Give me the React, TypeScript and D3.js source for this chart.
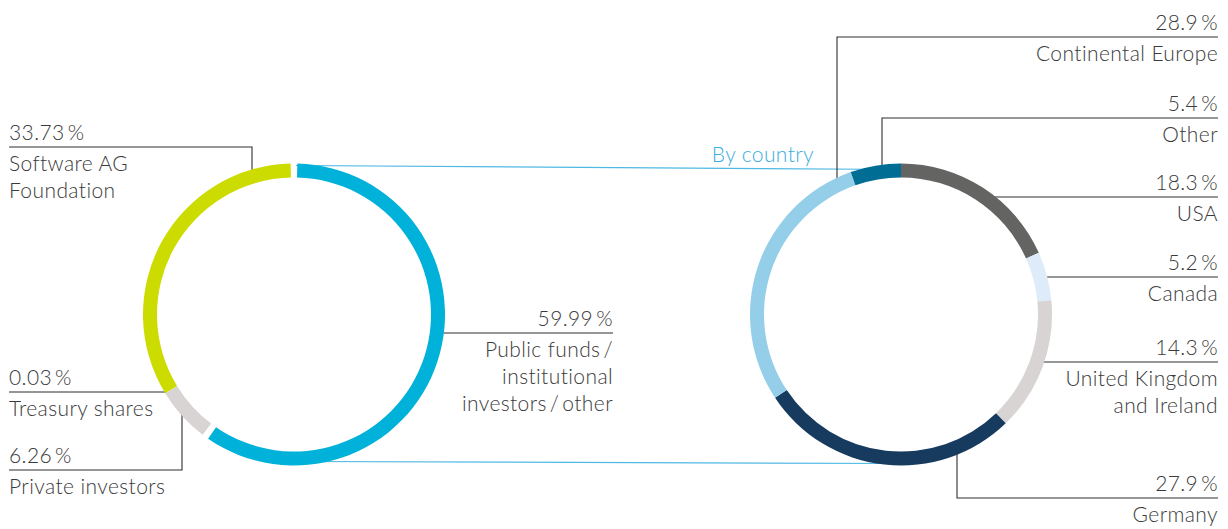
import { useEffect } from 'react'
import * as d3 from 'd3'

const W = 1228
const H = 529

// shareholder structure (left ring), clockwise from 12 o'clock
const HOLDER_KEYS = ['public', 'private', 'treasury', 'foundation']
const HOLDER_VALUES = [59.99, 6.26, 0.03, 33.73]
const HOLDER_COLORS = ['#00b1da', '#d7d4d3', '#d7d4d3', '#cddc00']

// by country (right ring), clockwise from 12 o'clock
const COUNTRY_KEYS = ['usa', 'canada', 'uk', 'germany', 'europe', 'other']
const COUNTRY_VALUES = [18.3, 5.2, 14.3, 27.9, 28.9, 5.4]
const COUNTRY_COLORS = ['#646463', '#ddecf8', '#d7d4d3', '#173a5f', '#94cee9', '#006d94']

const CY = 314.5
const LEFT_CX = 294
const RIGHT_CX = 901
const R_OUT = 151
const R_IN = 137

const TEXT = '#3a3a3a'
const LINE = '#2e2e2e'
const BLUE_LINE = '#4fb8e3'
const FONT = 'Lato, "Open Sans", sans-serif'
const FS = 21
const LS = 0.4

const pct = (v: number, d: number) => `${v.toFixed(d)}\u2009%`

// x on outer edge of ring for given y, on the chosen side
function ringX(cx: number, y: number, side: number) {
  const dy = y - CY
  return cx + side * Math.sqrt(Math.max(0, R_OUT * R_OUT - dy * dy))
}
function ringY(cx: number, x: number, side: number) {
  const dx = x - cx
  return CY + side * Math.sqrt(Math.max(0, R_OUT * R_OUT - dx * dx))
}

export default function App() {
  useEffect(() => {
    document.body.style.margin = '0'
  }, [])

  const pie = d3.pie<number>().sort(null).value(d => d)
  const arc = d3.arc<any>().innerRadius(R_IN).outerRadius(R_OUT)

  const gap = 0.022
  const holderArcs = pie(HOLDER_VALUES).map((a, i) => {
    if (i === 0) return { ...a, startAngle: a.startAngle + gap, endAngle: a.endAngle - gap }
    if (i === 1) return { ...a, startAngle: a.startAngle + gap }
    if (i === 3) return { ...a, endAngle: a.endAngle - gap }
    return a
  })
  const countryArcs = pie(COUNTRY_VALUES)

  const hv = HOLDER_VALUES
  const cv = COUNTRY_VALUES

  type Lab = { value: string; lines: string[]; anchor: 'start' | 'end'; x: number; y: number; path: string }
  const labels: Lab[] = [
    { value: pct(hv[3], 2), lines: ['Software AG', 'Foundation'], anchor: 'start', x: 9, y: 140,
      path: `M9,147H252V${ringY(LEFT_CX, 252, -1) + 2}` },
    { value: pct(hv[2], 2), lines: ['Treasury shares'], anchor: 'start', x: 9, y: 385,
      path: `M9,392H${ringX(LEFT_CX, 392, -1) + 2}` },
    { value: pct(hv[1], 2), lines: ['Private investors'], anchor: 'start', x: 9, y: 463,
      path: `M9,470H182V${ringY(LEFT_CX, 182, 1) - 2}` },
    { value: pct(hv[0], 2), lines: ['Public funds\u2009/', 'institutional', 'investors\u2009/\u2009other'], anchor: 'end', x: 613, y: 326,
      path: `M${ringX(LEFT_CX, 333, 1) - 2},333H613` },
    { value: pct(cv[4], 1), lines: ['Continental Europe'], anchor: 'end', x: 1218, y: 30,
      path: `M1218,37H837V${ringY(RIGHT_CX, 837, -1) + 2}` },
    { value: pct(cv[5], 1), lines: ['Other'], anchor: 'end', x: 1218, y: 111,
      path: `M1218,118H882V${ringY(RIGHT_CX, 882, -1) + 2}` },
    { value: pct(cv[0], 1), lines: ['USA'], anchor: 'end', x: 1218, y: 190,
      path: `M1218,197H${ringX(RIGHT_CX, 197, 1) - 2}` },
    { value: pct(cv[1], 1), lines: ['Canada'], anchor: 'end', x: 1218, y: 270,
      path: `M1218,277H${ringX(RIGHT_CX, 277, 1) - 2}` },
    { value: pct(cv[2], 1), lines: ['United Kingdom', 'and Ireland'], anchor: 'end', x: 1218, y: 355,
      path: `M1218,362H${ringX(RIGHT_CX, 362, 1) - 2}` },
    { value: pct(cv[3], 1), lines: ['Germany'], anchor: 'end', x: 1218, y: 491,
      path: `M1218,498H957V${ringY(RIGHT_CX, 957, 1) - 2}` },
  ]

  return (
    <svg width={W} height={H} style={{ display: 'block', background: '#fff' }} fontFamily={FONT}>
      {/* connector lines between the rings */}
      <line x1={LEFT_CX + 2} y1={CY - R_OUT + 2} x2={RIGHT_CX} y2={CY - R_OUT + 6}
        stroke={BLUE_LINE} strokeWidth={1.2} />
      <line x1={LEFT_CX + 4} y1={CY + R_OUT - 4} x2={RIGHT_CX} y2={CY + R_OUT - 2}
        stroke={BLUE_LINE} strokeWidth={1.2} />
      <text x={814} y={162} textAnchor="end" fill="#3aaee0" fontSize={FS} fontWeight={300}
        letterSpacing={LS}>By country</text>

      {labels.map((l, i) => (
        <g key={i}>
          <path d={l.path} fill="none" stroke={LINE} strokeWidth={1.1} />
          <text x={l.x} y={l.y} textAnchor={l.anchor} fill={TEXT} fontSize={FS} fontWeight={300}
            letterSpacing={LS}>{l.value}</text>
          {l.lines.map((t, j) => (
            <text key={j} x={l.x} y={l.y + 31 + j * 27} textAnchor={l.anchor} fill={TEXT}
              fontSize={FS} fontWeight={300} letterSpacing={LS}>{t}</text>
          ))}
        </g>
      ))}

      <g transform={`translate(${LEFT_CX},${CY})`}>
        {holderArcs.map((a, i) => (
          <path key={HOLDER_KEYS[i]} d={arc(a) || ''} fill={HOLDER_COLORS[i]} />
        ))}
      </g>
      <g transform={`translate(${RIGHT_CX},${CY})`}>
        {countryArcs.map((a, i) => (
          <path key={COUNTRY_KEYS[i]} d={arc(a) || ''} fill={COUNTRY_COLORS[i]} />
        ))}
      </g>
    </svg>
  )
}
